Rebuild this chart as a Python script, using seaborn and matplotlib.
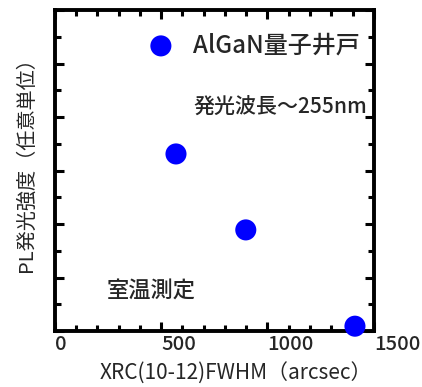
import matplotlib
matplotlib.use("Agg")
import matplotlib.pyplot as plt
from matplotlib.ticker import MultipleLocator
import seaborn as sns
import pandas as pd

# data
fwhm = [499, 570, 898, 1411]
intensity = [5.33, 3.31, 1.89, 0.09]
x_ticks = [0, 500, 1000, 1500]
x_ticklabels = ["0", "500", "1000", "1500"]
legend_label = "AlGaN量子井戸"
note_wavelength = "発光波長〜255nm"
note_temp = "室温測定"
x_label = "XRC(10-12)FWHM（arcsec）"
y_label = "PL発光強度（任意単位）"

sns.set_style("ticks")
plt.rcParams["font.family"] = ["Noto Sans CJK JP", "DejaVu Sans"]
plt.rcParams["font.weight"] = "medium"

df = pd.DataFrame({"fwhm": fwhm, "intensity": intensity})

fig = plt.figure(figsize=(4.22, 3.87), dpi=100)
ax = fig.add_axes([0.1296, 0.1447, 0.886 - 0.1296, 0.974 - 0.1447])

sns.scatterplot(data=df, x="fwhm", y="intensity", ax=ax, color="#0000FF",
                s=230, edgecolor="none", linewidth=0, zorder=5, clip_on=False)

ax.set_xlim(0, 1500)
ax.set_ylim(0, 6)
ax.set_xticks(x_ticks)
ax.set_xticklabels(x_ticklabels, ha="left")
ax.xaxis.set_minor_locator(MultipleLocator(100))
ax.yaxis.set_major_locator(MultipleLocator(1))
ax.yaxis.set_minor_locator(MultipleLocator(0.5))
ax.set_yticklabels([])

for sp in ax.spines.values():
    sp.set_linewidth(2.8)
    sp.set_color("black")
    sp.set_visible(True)

ax.tick_params(which="both", direction="in", top=True, right=True,
               width=2.2, color="black")
ax.tick_params(which="major", length=6.5, labelsize=14.5, pad=3)
ax.tick_params(which="minor", length=4)
ax.tick_params(axis="y", which="both", labelleft=False)

ax.set_xlabel(x_label, fontsize=15)
ax.xaxis.set_label_coords(0.568, -0.10)
ax.set_ylabel(y_label, fontsize=14.5)
ax.yaxis.set_label_coords(-0.055, 0.533)

ax.text(650, 5.33, legend_label, fontsize=17.3, ha="left", va="center")
ax.text(650, 4.17, note_wavelength, fontsize=15.1, ha="left", va="center")
ax.text(246, 0.75, note_temp, fontsize=16, ha="left", va="center")

fig.savefig("out.png", dpi=100)
